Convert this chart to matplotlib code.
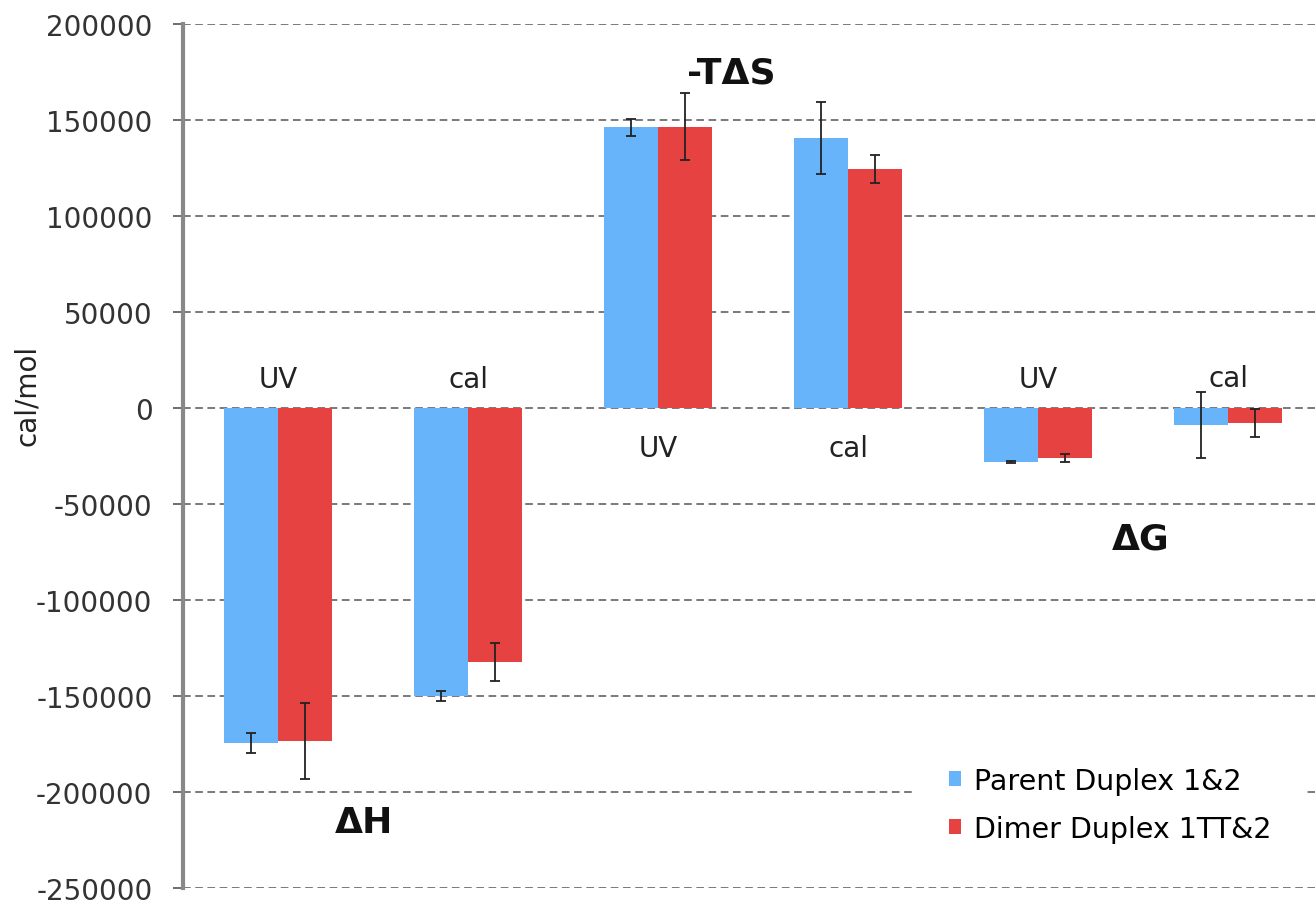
import matplotlib.pyplot as plt

# data (cal/mol)
groups = ['UV', 'cal', 'UV', 'cal', 'UV', 'cal']
parent = [-174500, -150000, 146300, 140600, -28100, -8900]
parent_err = [5200, 2600, 4400, 18700, 500, 17000]
dimer = [-173400, -132300, 146500, 124500, -26000, -7800]
dimer_err = [19800, 9900, 17400, 7300, 2000, 7500]

# group labels ("UV"/"cal") and the big quantity labels
sub_y = [15100, 15100, -20600, -20600, 15100, 15600]
quantities = ['ΔH', '-TΔS', 'ΔG']
quantity_x = [0.953, 2.884, 5.042]
quantity_y = [-215600, 174500, -68200]

blue = '#68b4fb'
red = '#e64242'

fig = plt.figure(figsize=(13.15, 9.04), dpi=100)
ax = fig.add_axes([183/1315, 15/904, 1 - 183/1315, 864/904])

x = [i + 0.5 for i in range(len(groups))]
w = 0.284

ax.bar([i - w/2 for i in x], parent, width=w, color=blue, label='Parent Duplex 1&2', zorder=2)
ax.bar([i + w/2 for i in x], dimer, width=w, color=red, label='Dimer Duplex 1TT&2', zorder=2)
ax.errorbar([i - w/2 for i in x], parent, yerr=parent_err, fmt='none', ecolor='#222222',
            elinewidth=1.3, capsize=3.5, capthick=1.3, zorder=3)
ax.errorbar([i + w/2 for i in x], dimer, yerr=dimer_err, fmt='none', ecolor='#222222',
            elinewidth=1.3, capsize=3.5, capthick=1.3, zorder=3)

# labels over / under each pair of bars
for i in range(len(groups)):
    ax.text(x[i], sub_y[i], groups[i], ha='center', va='center', fontsize=20, color='#222222')

for i in range(len(quantities)):
    ax.text(quantity_x[i], quantity_y[i], quantities[i], ha='center', va='center',
            fontsize=26, fontweight='bold', color='#111111')

ax.set_xlim(0, 1132/190)
ax.set_ylim(-250000, 200000)
ax.set_yticks(range(-250000, 200001, 50000))
ax.set_yticklabels([str(v) for v in range(-250000, 200001, 50000)])
ax.set_xticks([])
ax.tick_params(axis='y', labelsize=20, labelcolor='#333333', length=7, width=1.2,
               color='#555555', pad=15)

fig.text(27/1315, 1 - 395/904, 'cal/mol', rotation=90, ha='center', va='center',
         fontsize=20, color='#222222')

ax.grid(axis='y', linestyle=(0, (5, 3)), color='#555555', linewidth=1.1, zorder=0)
for s in ['top', 'right', 'bottom']:
    ax.spines[s].set_visible(False)
ax.spines['left'].set_color('#888888')
ax.spines['left'].set_linewidth(3)

leg = ax.legend(loc='center left', bbox_to_anchor=(915/1315, 1 - 806/904),
                bbox_transform=fig.transFigure, borderaxespad=0, fontsize=20.5,
                frameon=True, handlelength=0.42, handleheight=0.42, handletextpad=0.45,
                labelspacing=0.7, borderpad=1.2, fancybox=False)
leg.get_frame().set_edgecolor('white')
leg.get_frame().set_facecolor('white')
leg.get_frame().set_alpha(1)
leg.set_zorder(5)

fig.savefig('out.png', dpi=100)
